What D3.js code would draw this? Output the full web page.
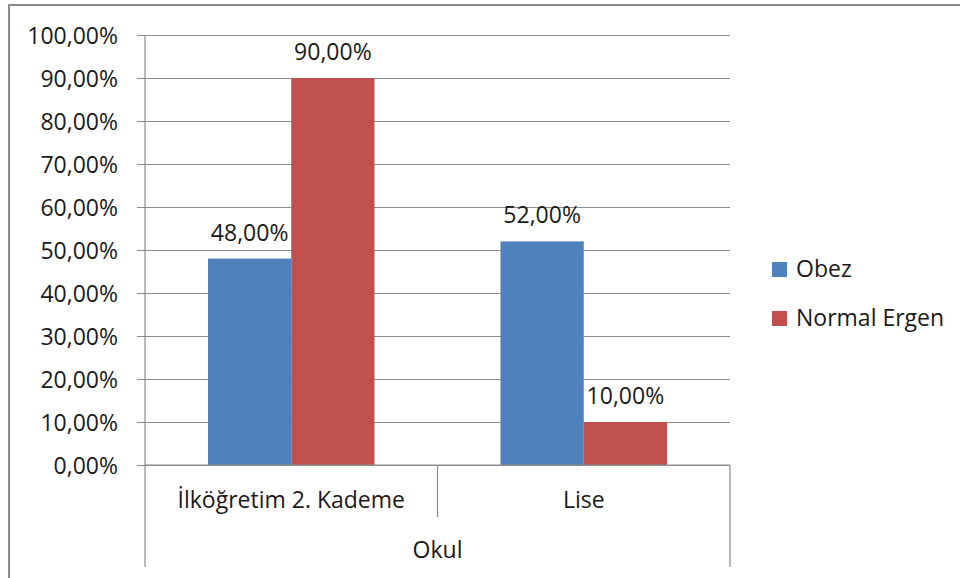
<!DOCTYPE html>
<html>
<head>
<meta charset="utf-8">
<script src="https://cdn.jsdelivr.net/npm/d3@7"></script>
<style>
  html, body { margin: 0; padding: 0; background: #fff; }
  svg { display: block; }
  text { font-family: "Open Sans", Lato, sans-serif; fill: #1a1a1a; }
</style>
</head>
<body>
<svg id="chart" width="960" height="578"></svg>
<script>
// Data
const categories = ["İlköğretim 2. Kademe", "Lise"];
const seriesNames = ["Obez", "Normal Ergen"];
const obez = [48, 52];
const normalErgen = [90, 10];
const yTicks = [0, 10, 20, 30, 40, 50, 60, 70, 80, 90, 100];
const axisTitle = "Okul";
const colors = ["#4F81BD", "#C0504D"];

const seriesValues = [obez, normalErgen];
const fmt = v => d3.format(".2f")(v).replace(".", ",") + "%";

const svg = d3.select("#chart");
const fontSize = 23;

// Outer frame
svg.append("rect")
  .attr("x", 9).attr("y", 5)
  .attr("width", 1000).attr("height", 700)
  .attr("fill", "none").attr("stroke", "#8c8c8c").attr("stroke-width", 2);

const plot = { left: 145, right: 730, top: 35, bottom: 465 };

const y = d3.scaleLinear().domain([0, 100]).range([plot.bottom, plot.top]);
const x0 = d3.scaleBand().domain(categories).range([plot.left, plot.right]).paddingInner(0).paddingOuter(0);
const x1 = d3.scaleBand().domain(seriesNames).range([63, x0.bandwidth() - 63]).padding(0);

// Gridlines with tick marks extending left
const yAxis = d3.axisLeft(y)
  .tickValues(yTicks)
  .tickSize(-(plot.right - plot.left + 8))
  .tickFormat(fmt);
const gy = svg.append("g")
  .attr("transform", `translate(${plot.left - 8},0)`)
  .call(yAxis);
gy.select(".domain").remove();
gy.selectAll(".tick line").attr("stroke", "#8c8c8c").attr("stroke-width", 1.2);
gy.selectAll(".tick text")
  .attr("x", -19)
  .attr("dy", "0.35em")
  .style("font-size", fontSize + "px")
  .style("font-family", "'Open Sans', Lato, sans-serif")
  .attr("fill", "#1a1a1a");

// Vertical axis line
svg.append("line")
  .attr("x1", plot.left).attr("x2", plot.left)
  .attr("y1", plot.top).attr("y2", plot.bottom)
  .attr("stroke", "#8c8c8c").attr("stroke-width", 1.2);

// Bars
const groups = svg.append("g").selectAll("g")
  .data(categories)
  .join("g")
  .attr("transform", d => `translate(${x0(d)},0)`);

groups.selectAll("rect")
  .data((d, i) => seriesNames.map((s, j) => ({ s, v: seriesValues[j][i], j })))
  .join("rect")
  .attr("x", d => x1(d.s))
  .attr("width", x1.bandwidth())
  .attr("y", d => y(d.v))
  .attr("height", d => y(0) - y(d.v))
  .attr("fill", d => colors[d.j]);

groups.selectAll("text.val")
  .data((d, i) => seriesNames.map((s, j) => ({ s, v: seriesValues[j][i], j })))
  .join("text")
  .attr("class", "val")
  .attr("x", d => x1(d.s) + x1.bandwidth() / 2)
  .attr("y", d => y(d.v) - 18)
  .attr("text-anchor", "middle")
  .style("font-size", fontSize + "px")
  .text(d => fmt(d.v));

// Baseline and category separators
svg.append("line")
  .attr("x1", plot.left).attr("x2", plot.right)
  .attr("y1", plot.bottom).attr("y2", plot.bottom)
  .attr("stroke", "#8c8c8c").attr("stroke-width", 1.2);

const edges = [plot.left, ...categories.slice(1).map(c => x0(c)), plot.right];
svg.append("g").selectAll("line")
  .data(edges)
  .join("line")
  .attr("x1", d => d).attr("x2", d => d)
  .attr("y1", plot.bottom)
  .attr("y2", (d, i) => (i === 0 || i === edges.length - 1) ? 567 : 517)
  .attr("stroke", "#8c8c8c").attr("stroke-width", 1.2);

// Category labels
svg.append("g").selectAll("text")
  .data(categories)
  .join("text")
  .attr("x", d => x0(d) + x0.bandwidth() / 2)
  .attr("y", 508)
  .attr("text-anchor", "middle")
  .style("font-size", fontSize + "px")
  .text(d => d);

// Axis group title
svg.append("text")
  .attr("x", (plot.left + plot.right) / 2)
  .attr("y", 558)
  .attr("text-anchor", "middle")
  .style("font-size", fontSize + "px")
  .text(axisTitle);

// Legend
const legend = svg.append("g").attr("transform", "translate(772,262)");
const li = legend.selectAll("g")
  .data(seriesNames)
  .join("g")
  .attr("transform", (d, i) => `translate(0,${i * 49})`);
li.append("rect")
  .attr("width", 15).attr("height", 15)
  .attr("fill", (d, i) => colors[i]);
li.append("text")
  .attr("x", 24).attr("y", 15)
  .style("font-size", fontSize + "px")
  .text(d => d);
</script>
</body>
</html>
